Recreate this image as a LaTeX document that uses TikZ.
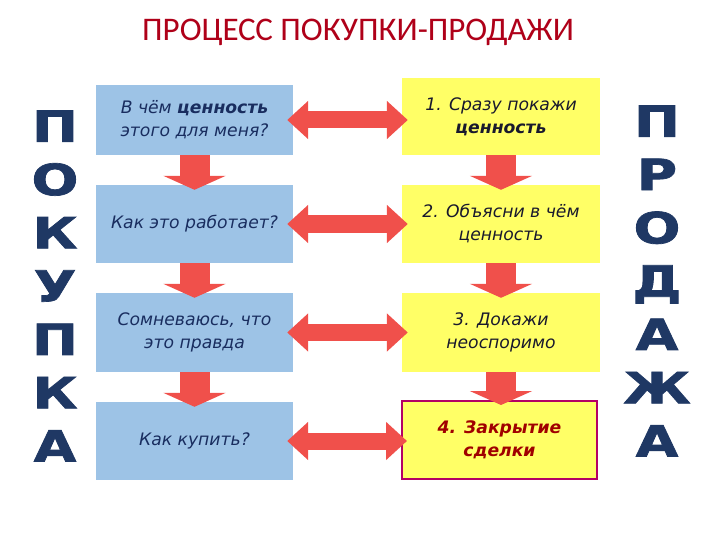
\documentclass[tikz,border=0pt]{standalone}
\usepackage{fontspec}
\setmainfont{DejaVu Sans}
\newfontfamily\titlefont{Carlito}
\newfontfamily\boxfont{DejaVu Sans}
\newfontfamily\bigletters[BoldFeatures={FakeBold=1.6}]{DejaVu Sans}
\usetikzlibrary{arrows.meta,calc}
\definecolor{boxblue}{RGB}{157,195,230}
\definecolor{boxyellow}{RGB}{255,255,102}
\definecolor{arrred}{RGB}{240,80,75}
\definecolor{navy}{RGB}{31,56,100}
\definecolor{titlered}{RGB}{175,0,25}
\definecolor{txtblue}{RGB}{25,45,95}
\definecolor{txtdark}{RGB}{25,25,45}
\definecolor{darkred}{RGB}{160,0,0}
\definecolor{frameclr}{RGB}{180,0,100}
\begin{document}
\begin{tikzpicture}[x=1pt,y=-1pt,
  boxtext/.style={inner sep=0pt, align=center, font=\boxfont\itshape\fontsize{17.2}{23}\selectfont},
  bluebox/.style={boxtext, fill=boxblue, minimum width=197pt, text=txtblue},
  yellowbox/.style={boxtext, fill=boxyellow, minimum width=198pt, text=txtdark},
  dblarr/.style={draw=arrred, line width=17pt, {Triangle[width=37pt,length=21pt]}-{Triangle[width=37pt,length=21pt]}},
  downarr/.style={draw=arrred, line width=30pt, -{Triangle[width=62pt,length=14pt]}},
  column/.style={text=navy, align=center, inner sep=0pt, xscale=1.28, transform shape,
    font=\bigletters\bfseries\fontsize{43}{53.3}\selectfont}
]
\fill[white] (0,0) rectangle (720,540);
\useasboundingbox (0,0) rectangle (720,540);

\node[text=titlered, font=\titlefont\fontsize{33}{40}\selectfont] (title) at (358,32) {ПРОЦЕСС ПОКУПКИ-ПРОДАЖИ};

% left column boxes
\node[bluebox, minimum height=70pt] (b1) at (194.5,120) {В чём \textbf{ценность}\\этого для меня?};
\node[bluebox, minimum height=78pt] (b2) at (194.5,224) {Как это работает?};
\node[bluebox, minimum height=79pt] (b3) at (194.5,332.5) {Сомневаюсь, что\\это правда};
\node[bluebox, minimum height=78pt] (b4) at (194.5,441) {Как купить?};

% right column boxes
\node[yellowbox, minimum height=77pt] (y1) at (501,116.5) {1. Сразу покажи\\\textbf{ценность}};
\node[yellowbox, minimum height=78pt] (y2) at (501,224) {2. Объясни в чём\\ценность};
\node[yellowbox, minimum height=79pt] (y3) at (501,332.5) {3. Докажи\\неоспоримо};
\node[yellowbox, minimum height=78pt, minimum width=195pt, draw=frameclr, line width=2pt, text=darkred, font=\boxfont\bfseries\itshape\fontsize{17.2}{23}\selectfont] (y4) at (499.5,440) {4. Закрытие\\сделки};

% vertical words
\node[column] (buy) at (55,286) {П\\О\\К\\У\\П\\К\\А};
\node[column] (sell) at (657,281) {П\\Р\\О\\Д\\А\\Ж\\А};

% down arrows
\draw[downarr] (b1.south) -- ($(b2.north)+(0,5)$);
\draw[downarr] (b2.south) -- ($(b3.north)+(0,5)$);
\draw[downarr] (b3.south) -- ($(b4.north)+(0,5)$);
\draw[downarr] (y1.south) -- ($(y2.north)+(0,5)$);
\draw[downarr] (y2.south) -- ($(y3.north)+(0,5)$);
\draw[downarr] (y3.south) -- ($(y3.south |- y4.north)+(0,5)$);

% double arrows
\draw[dblarr] ($(b1.east)+(-6,0)$) -- ($(b1.east -| y1.west)+(6,0)$);
\draw[dblarr] ($(b2.east)+(-6,0)$) -- ($(b2.east -| y2.west)+(6,0)$);
\draw[dblarr] ($(b3.east)+(-6,0)$) -- ($(b3.east -| y3.west)+(6,0)$);
\draw[dblarr] ($(b4.east)+(-6,0)$) -- ($(b4.east -| y4.west)+(6,0)$);
\end{tikzpicture}
\end{document}
